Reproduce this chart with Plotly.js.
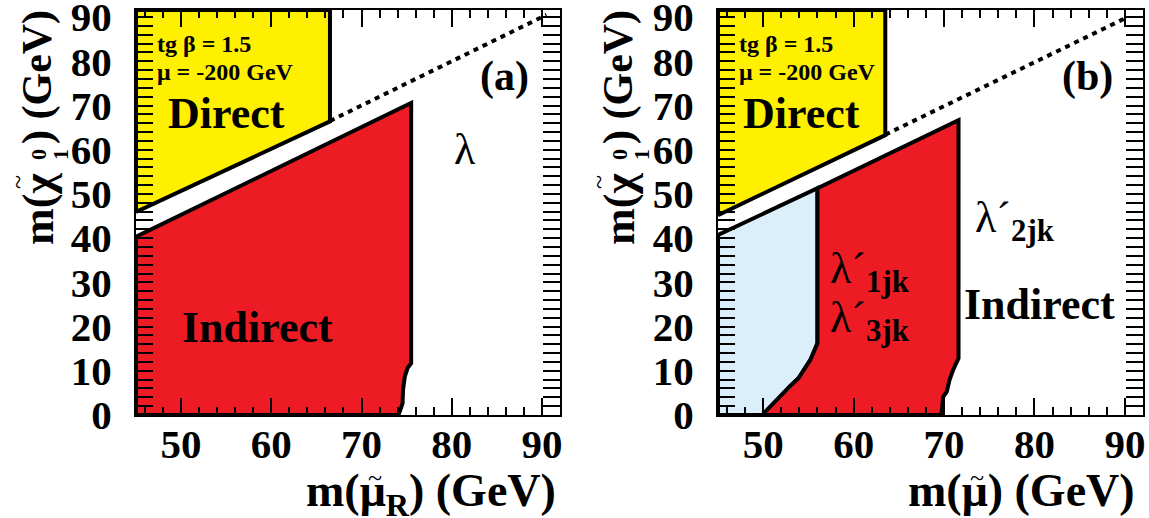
<!DOCTYPE html>
<html>
<head>
<meta charset="utf-8">
<script src="https://cdn.plot.ly/plotly-3.0.1.min.js"></script>
<style>html,body{margin:0;padding:0;background:#fff;}</style>
</head>
<body>
<div id="chart" style="width:1149px;height:518px;"></div>
<script>
// ---- data (GeV) ----
const yTop = 91.6;
// panel (a)
const yellowA_x = [45, 45, 66.5, 66.5, 45];
const yellowA_y = [45.9, yTop, yTop, 66.4, 45.9];
const redA_x = [45, 45, 75.5, 75.5, 75.1, 74.8, 74.6, 74.55, 74.1, 45];
const redA_y = [0, 40.3, 70.6, 11.7, 10.6, 8.7, 5.7, 2.6, 0, 0];
const diagA_x = [66.5, 90.5];
const diagA_y = [66.5, 90.5];
// panel (b)
const yellowB_x = [45, 45, 63.5, 63.5, 45];
const yellowB_y = [45.2, yTop, yTop, 63.3, 45.2];
const blueB_x = [45, 45, 56.0, 56.0, 55.2, 53.9, 53.0, 50.2, 50.0, 45];
const blueB_y = [0, 40.7, 51.3, 16.2, 12.4, 8.3, 6.6, 0.7, 0, 0];
const redB_x = [56.0, 71.6, 71.6, 71.0, 70.6, 70.3, 69.9, 69.7, 50.0, 50.2, 53.0, 53.9, 55.2, 56.0, 56.0];
const redB_y = [51.3, 66.7, 12.8, 10.2, 7.9, 5.3, 4.1, 0, 0, 0.7, 6.6, 8.3, 12.4, 16.2, 51.3];
const diagB_x = [63.5, 90.3];
const diagB_y = [63.4, 90.0];
// tick values
const tickValsX = [50, 60, 70, 80, 90];
const tickValsY = [0, 10, 20, 30, 40, 50, 60, 70, 80, 90];

const YELLOW = 'rgb(255,240,0)';
const RED = 'rgb(237,28,36)';
const BLUE = 'rgb(219,239,250)';
const FONT = 'Liberation Serif';
const W = 1149, H = 518;

function region(x, y, color, xa, ya) {
  return {x: x, y: y, xaxis: xa, yaxis: ya, type: 'scatter', mode: 'lines',
    fill: 'toself', fillcolor: color, line: {color: 'black', width: 4},
    hoverinfo: 'skip', showlegend: false};
}
function diag(x, y, xa, ya) {
  return {x: x, y: y, xaxis: xa, yaxis: ya, type: 'scatter', mode: 'lines',
    line: {color: 'black', width: 4, dash: '5px,5px'}, hoverinfo: 'skip', showlegend: false};
}
function empty(xa, ya) {
  return {x: [], y: [], xaxis: xa, yaxis: ya, type: 'scatter', mode: 'lines', hoverinfo: 'skip', showlegend: false};
}

const data = [
  region(yellowA_x, yellowA_y, YELLOW, 'x', 'y'),
  region(redA_x, redA_y, RED, 'x', 'y'),
  diag(diagA_x, diagA_y, 'x', 'y'),
  region(yellowB_x, yellowB_y, YELLOW, 'x2', 'y2'),
  region(blueB_x, blueB_y, BLUE, 'x2', 'y2'),
  region(redB_x, redB_y, RED, 'x2', 'y2'),
  diag(diagB_x, diagB_y, 'x2', 'y2'),
  empty('x3', 'y'),
  empty('x4', 'y2')
];

const tickFont = {family: FONT, size: 41, weight: 'bold', color: 'black'};

function xAxis(domain, anchor) {
  return {domain: domain, anchor: anchor, range: [45, 92], tickvals: tickValsX,
    ticks: 'inside', ticklen: 17, tickwidth: 2, tickcolor: 'black',
    minor: {dtick: 2, tick0: 0, ticks: 'inside', ticklen: 8, tickwidth: 2, tickcolor: 'black'},
    showline: true, linewidth: 2, linecolor: 'black', mirror: 'allticks',
    showgrid: false, zeroline: false, showticklabels: false};
}
// label-only axis at the frame bottom
function xLabelAxis(over) {
  return {overlaying: over, anchor: 'free', position: 1 - 416/H, side: 'bottom',
    range: [45, 92], tickvals: tickValsX, ticks: '', showline: false,
    showgrid: false, zeroline: false, showticklabels: true, ticklabeloverflow: 'allow',
    tickfont: tickFont};
}
function yAxis(anchor) {
  return {domain: [1 - 415/H, 1 - 10/H], anchor: anchor, range: [0, yTop], tickvals: tickValsY,
    ticks: 'inside', ticklen: 17, tickwidth: 2, tickcolor: 'black',
    minor: {dtick: 2, tick0: 0, ticks: 'inside', ticklen: 8, tickwidth: 2, tickcolor: 'black'},
    showline: true, linewidth: 2, linecolor: 'black', mirror: 'allticks',
    showgrid: false, zeroline: false, ticklabelstandoff: 14, ticklabeloverflow: 'allow',
    tickfont: tickFont};
}

function ann(text, x, y, xref, yref, size, opts) {
  return Object.assign({text: text, x: x, y: y, xref: xref, yref: yref, showarrow: false,
    font: {family: FONT, size: size, color: 'black', weight: 'bold'},
    xanchor: 'center', yanchor: 'middle'}, opts || {});
}
function nf(size) { return {family: FONT, size: size, color: 'black', weight: 'normal'}; }
function px(xp, yp, text, size, opts) {
  return ann(text, xp / W, 1 - yp / H, 'paper', 'paper', size, opts);
}
function yTitle(dx) {
  return [
    px(38 + dx, 247, 'm(χ', 44, {textangle: -90, yanchor: 'bottom'}),
    px(18 + dx, 182, '~', 26, {textangle: -90, font: nf(26)}),
    px(39 + dx, 155, '0', 22, {textangle: -90}),
    px(61 + dx, 155, '1', 22, {textangle: -90}),
    px(38 + dx, 8, ') (GeV)', 42, {textangle: -90, yanchor: 'top'})
  ];
}

const annotations = [
  // panel a
  ann('tg β = 1.5', 47.1, 83.9, 'x', 'y', 24, {xanchor: 'left'}),
  ann('μ = -200 GeV', 47.1, 77.6, 'x', 'y', 24, {xanchor: 'left'}),
  ann('Direct', 55.0, 68.3, 'x', 'y', 44),
  ann('(a)', 85.9, 76.5, 'x', 'y', 42),
  ann('λ', 81.5, 60, 'x', 'y', 44, {font: nf(44)}),
  ann('Indirect', 58.5, 19.7, 'x', 'y', 44),
  // panel b
  ann('tg β = 1.5', 47.1, 83.9, 'x2', 'y2', 24, {xanchor: 'left'}),
  ann('μ = -200 GeV', 47.1, 77.6, 'x2', 'y2', 24, {xanchor: 'left'}),
  ann('Direct', 54.2, 68.3, 'x2', 'y2', 44),
  ann('(b)', 85.9, 76.5, 'x2', 'y2', 42),
  ann('λ´<sub><b>2jk</b></sub>', 73.2, 44, 'x2', 'y2', 44, {xanchor: 'left', font: nf(44)}),
  ann('λ´<sub><b>1jk</b></sub>', 57.2, 32.5, 'x2', 'y2', 44, {xanchor: 'left', font: nf(44)}),
  ann('λ´<sub><b>3jk</b></sub>', 57.2, 21.3, 'x2', 'y2', 44, {xanchor: 'left', font: nf(44)}),
  ann('Indirect', 80.6, 24.9, 'x2', 'y2', 44),
  // x axis titles
  px(558, 463, 'm(μ<sub>R</sub>) (GeV)', 46, {xanchor: 'right', yanchor: 'top'}),
  px(375, 477, '~', 26, {font: nf(26)}),
  px(1137, 463, 'm(μ) (GeV)', 46, {xanchor: 'right', yanchor: 'top'}),
  px(977, 477, '~', 26, {font: nf(26)})
].concat(yTitle(0), yTitle(581));

const layout = {
  width: W, height: H, autosize: false,
  margin: {l: 0, r: 0, t: 0, b: 0},
  paper_bgcolor: 'white', plot_bgcolor: 'white',
  showlegend: false,
  xaxis: xAxis([136/W, 560/W], 'y'),
  yaxis: yAxis('x'),
  xaxis2: xAxis([718/W, 1143/W], 'y2'),
  yaxis2: yAxis('x2'),
  xaxis3: xLabelAxis('x'),
  xaxis4: xLabelAxis('x2'),
  annotations: annotations
};

Plotly.newPlot('chart', data, layout, {displayModeBar: false, staticPlot: true});
</script>
</body>
</html>
